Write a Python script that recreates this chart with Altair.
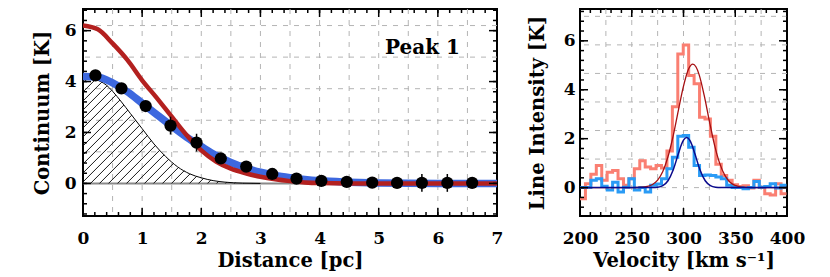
import altair as alt
import pandas as pd
import numpy as np

FONT = "DejaVu Serif"

# ---------------- Left panel data ----------------
dist_curve = [0, 0.25, 0.5, 0.75, 1.0, 1.25, 1.5, 1.75, 2.0, 2.25, 2.5, 2.75, 3.0,
              3.25, 3.5, 3.75, 4.0, 4.5, 5.0, 6.0, 7.0]
red_model = [6.2, 6.05, 5.5, 4.85, 4.05, 3.35, 2.62, 1.9, 1.3, 0.86, 0.58, 0.4, 0.26,
             0.16, 0.09, 0.04, 0.015, 0.0, 0.0, 0.0, 0.0]
blue_model = [4.2, 4.18, 3.95, 3.6, 3.15, 2.7, 2.25, 1.82, 1.45, 1.1, 0.82, 0.6, 0.44,
              0.31, 0.22, 0.15, 0.1, 0.05, 0.02, 0.0, 0.0]

dist_pts = [0.21, 0.65, 1.06, 1.48, 1.92, 2.33, 2.76, 3.20, 3.61, 4.03, 4.46, 4.89,
            5.31, 5.73, 6.16, 6.58]
cont_pts = [4.24, 3.73, 3.04, 2.27, 1.6, 0.98, 0.66, 0.37, 0.19, 0.1, 0.06, 0.03,
            0.02, 0.02, 0.02, 0.02]
cont_err = [0.15, 0.15, 0.15, 0.35, 0.35, 0.15, 0.15, 0.15, 0.15, 0.15, 0.15, 0.15,
            0.15, 0.35, 0.35, 0.15]

hatch_x = [0, 0.1, 0.2, 0.3, 0.4, 0.5, 0.65, 0.8, 1.0, 1.2, 1.4, 1.6, 1.8, 2.0, 2.2,
           2.4, 2.7, 3.0]
hatch_y = [4.08, 4.1, 4.08, 4.0, 3.85, 3.62, 3.2, 2.75, 2.15, 1.55, 1.05, 0.65, 0.38,
           0.22, 0.11, 0.05, 0.01, 0.0]

left_xticks = [0, 1, 2, 3, 4, 5, 6, 7]
left_yticks = [0, 2, 4, 6]
left_xgrid = [0.5, 1.0, 1.5, 2.0, 2.5, 3.0, 3.5, 4.0, 4.5, 5.0, 5.5, 6.0, 6.5]
left_ygrid = [0, 1.24, 2.48, 3.72, 4.96, 6.2]
peak_label = ["Peak 1"]

# ---------------- Right panel data ----------------
chan_start = 200.0
chan_width = 5.25
red_spec = [-0.46, 0.16, 0.55, 0.9, 0.3, 0.63, 0.7, 0.36, 0.1, 0.36, 0.77, 1.1, 0.84,
            0.77, 0.9, 0.8, 1.5, 3.3, 5.46, 5.83, 4.58, 4.24, 2.88, 2.8, 2.1, 0.95,
            0.5, 0.3, 0.12, 0.05, 0.08, -0.02, 0.3, 0.02, -0.25, -0.3, 0.16, -0.25]
blue_spec = [0.0, 0.0, 0.3, 0.36, 0.06, -0.1, 0.22, -0.18, 0.02, 0.36, -0.1, 0.0,
             -0.18, 0.1, 0.15, 0.36, 0.77, 1.24, 2.1, 2.13, 1.65, 0.9, 0.5, 0.52, 0.5,
             0.43, 0.36, 0.1, 0.0, 0.0, -0.05, 0.0, 0.25, 0.02, 0.05, 0.16, -0.02, 0.1]

red_fit_v = [200, 250, 260, 265, 270, 275, 280, 285, 290, 295, 300, 305, 309, 312, 315,
             320, 325, 330, 335, 340, 345, 350, 355, 360, 370, 400]
red_fit = [0, 0, 0.015, 0.05, 0.13, 0.31, 0.66, 1.26, 2.11, 3.15, 4.15, 4.86, 5.05,
           4.94, 4.63, 3.77, 2.72, 1.74, 0.99, 0.50, 0.22, 0.09, 0.03, 0.01, 0, 0]
blue_fit_v = [200, 265, 270, 275, 280, 285, 290, 295, 298, 300, 303, 306, 308, 311,
              316, 321, 326, 331, 336, 400]
blue_fit = [0, 0, 0.003, 0.016, 0.08, 0.28, 0.72, 1.38, 1.76, 1.94, 2.05, 1.94, 1.76,
            1.38, 0.72, 0.28, 0.08, 0.016, 0.003, 0]

right_xticks = [200, 250, 300, 350, 400]
right_yticks = [0, 2, 4, 6]
right_xgrid = [225, 250, 275, 300, 325, 350, 375]
right_ygrid = [0, 7 / 6, 14 / 6, 21 / 6, 28 / 6, 35 / 6, 7.0]

# ---------------- geometry ----------------
W1, H1 = 414, 207
W2, H2 = 207, 207
XD1 = [0, 7]
YD1 = [-1.28, 6.85]
XD2 = [200, 400]
YD2 = [-1.16, 7.3]

GRID = "#b4b4b4"
LFS = 17      # tick label font size
TFS = 19.5    # axis title font size


def ax_common(**kw):
    base = dict(labelFont=FONT, labelFontSize=LFS, labelFontWeight="bold",
                titleFont=FONT, titleFontSize=TFS, titleFontWeight="bold",
                labelColor="black", titleColor="black", tickSize=0, domain=False,
                grid=False, labelFlush=False, labelOverlap=False)
    base.update(kw)
    return alt.Axis(**base)


xs1 = alt.Scale(domain=XD1, nice=False, zero=False)
ys1 = alt.Scale(domain=YD1, nice=False, zero=False)
xs2 = alt.Scale(domain=XD2, nice=False, zero=False)
ys2 = alt.Scale(domain=YD2, nice=False, zero=False)

AX1 = ax_common(values=left_xticks, title="Distance [pc]", labelPadding=14,
                titlePadding=5, format="d")
AY1 = ax_common(values=left_yticks, title="Continuum [K]", labelPadding=7,
                titlePadding=12, format="d")
AX2 = ax_common(values=right_xticks, title="Velocity [km s\u207b\u00b9]",
                labelPadding=14, titlePadding=5, format="d")
AY2 = ax_common(values=right_yticks, title="Line Intensity [K]", labelPadding=5,
                titlePadding=16, format="d")


def X(f, s, a):
    return alt.X(f, scale=s, axis=a)


def Y(f, s, a):
    return alt.Y(f, scale=s, axis=a)


def frame_ticks(xvals_major, xvals_minor, yvals_major, yvals_minor, xs, ys, ax, ay, W, H):
    layers = []
    for vals, L in ((xvals_major, 8), (xvals_minor, 4)):
        df = pd.DataFrame({"v": vals})
        b = alt.Chart(df).mark_rule(color="black", strokeWidth=1.5)
        layers.append(b.encode(x=X("v:Q", xs, ax), y=alt.value(H), y2=alt.value(H - L)))
        layers.append(b.encode(x=X("v:Q", xs, ax), y=alt.value(0), y2=alt.value(L)))
    for vals, L in ((yvals_major, 8), (yvals_minor, 4)):
        df = pd.DataFrame({"v": vals})
        b = alt.Chart(df).mark_rule(color="black", strokeWidth=1.5)
        layers.append(b.encode(y=Y("v:Q", ys, ay), x=alt.value(0), x2=alt.value(L)))
        layers.append(b.encode(y=Y("v:Q", ys, ay), x=alt.value(W), x2=alt.value(W - L)))
    return layers


# ================= LEFT PANEL =================
vgrid1 = alt.Chart(pd.DataFrame({"v": left_xgrid})).mark_rule(
    color=GRID, strokeDash=[5, 6], strokeWidth=1).encode(x=X("v:Q", xs1, AX1))
hgrid1 = alt.Chart(pd.DataFrame({"v": left_ygrid})).mark_rule(
    color=GRID, strokeDash=[5, 6], strokeWidth=1).encode(y=Y("v:Q", ys1, AY1))
zero1 = alt.Chart(pd.DataFrame({"v": [0]})).mark_rule(
    color="#8a8a8a", strokeWidth=2).encode(y=Y("v:Q", ys1, AY1))

# hatch segments derived from the hatched profile
sx = W1 / (XD1[1] - XD1[0])
sy = H1 / (YD1[1] - YD1[0])
slope = sx / sy
spacing = 9.0 / sx
xx = np.linspace(0, 3.0, 3001)
hh = np.interp(xx, hatch_x, hatch_y)
segs = []
for b in np.arange(-4.3 / slope, 3.0, spacing):
    x0 = max(b, 0.0)
    y0 = slope * (x0 - b)
    if y0 >= np.interp(x0, hatch_x, hatch_y):
        continue
    line = slope * (xx - b)
    mask = (xx > x0) & (line >= hh)
    if not mask.any():
        continue
    x1 = xx[mask][0]
    segs.append({"x": x0, "y": y0, "x2": x1, "y2": slope * (x1 - b)})
hatch_df = pd.DataFrame(segs)
hatch = alt.Chart(hatch_df).mark_rule(color="black", strokeWidth=0.9).encode(
    x=X("x:Q", xs1, AX1), y=Y("y:Q", ys1, AY1), x2="x2:Q", y2="y2:Q")
hatch_outline = alt.Chart(pd.DataFrame({"x": hatch_x, "y": hatch_y})).mark_line(
    color="black", strokeWidth=1, interpolate="monotone").encode(
    x=X("x:Q", xs1, AX1), y=Y("y:Q", ys1, AY1))

curves = pd.DataFrame({"x": dist_curve, "red": red_model, "blue": blue_model})
blue_line = alt.Chart(curves).mark_line(
    color="#3d68df", strokeWidth=7.5, interpolate="monotone", clip=True).encode(
    x=X("x:Q", xs1, AX1), y=Y("blue:Q", ys1, AY1))
red_line = alt.Chart(curves).mark_line(
    color="#b3201f", strokeWidth=4.5, interpolate="monotone", clip=True).encode(
    x=X("x:Q", xs1, AX1), y=Y("red:Q", ys1, AY1))

pts = pd.DataFrame({"x": dist_pts, "y": cont_pts, "e": cont_err})
pts["lo"] = pts["y"] - pts["e"]
pts["hi"] = pts["y"] + pts["e"]
errbars = alt.Chart(pts).mark_rule(color="black", strokeWidth=1.5).encode(
    x=X("x:Q", xs1, AX1), y=Y("lo:Q", ys1, AY1), y2="hi:Q")
dots = alt.Chart(pts).mark_circle(color="black", opacity=1, size=150).encode(
    x=X("x:Q", xs1, AX1), y=Y("y:Q", ys1, AY1))

label = alt.Chart(pd.DataFrame({"t": peak_label, "x": [5.74], "y": [5.32]})).mark_text(
    font=FONT, fontSize=20, fontWeight="bold", color="black", align="center",
    baseline="middle").encode(x=X("x:Q", xs1, AX1), y=Y("y:Q", ys1, AY1), text="t:N")

ticks1 = frame_ticks(left_xticks, list(np.round(np.arange(0, 7.01, 0.2), 3)),
                     left_yticks, list(np.round(np.arange(-1.2, 6.81, 0.4), 3)),
                     xs1, ys1, AX1, AY1, W1, H1)

left = alt.layer(vgrid1, hgrid1, zero1, hatch, hatch_outline, blue_line, red_line,
                 errbars, dots, label, *ticks1).properties(width=W1, height=H1)

# ================= RIGHT PANEL =================
vgrid2 = alt.Chart(pd.DataFrame({"v": right_xgrid})).mark_rule(
    color=GRID, strokeDash=[5, 6], strokeWidth=1).encode(x=X("v:Q", xs2, AX2))
hgrid2 = alt.Chart(pd.DataFrame({"v": right_ygrid})).mark_rule(
    color=GRID, strokeDash=[5, 6], strokeWidth=1).encode(y=Y("v:Q", ys2, AY2))

n = len(red_spec)
edges = [chan_start + chan_width * i for i in range(n + 1)]
spec_df = pd.DataFrame({"v": edges, "red": red_spec + [red_spec[-1]],
                        "blue": blue_spec + [blue_spec[-1]]})
red_hist = alt.Chart(spec_df).mark_line(
    color="#fa7f72", strokeWidth=3, interpolate="step-after", clip=True).encode(
    x=X("v:Q", xs2, AX2), y=Y("red:Q", ys2, AY2))
blue_hist = alt.Chart(spec_df).mark_line(
    color="#2a9bf5", strokeWidth=3, interpolate="step-after", clip=True).encode(
    x=X("v:Q", xs2, AX2), y=Y("blue:Q", ys2, AY2))

rfit = alt.Chart(pd.DataFrame({"v": red_fit_v, "y": red_fit})).mark_line(
    color="#a50f12", strokeWidth=1.3, interpolate="monotone", clip=True).encode(
    x=X("v:Q", xs2, AX2), y=Y("y:Q", ys2, AY2))
bfit = alt.Chart(pd.DataFrame({"v": blue_fit_v, "y": blue_fit})).mark_line(
    color="#0a0a8c", strokeWidth=1.5, interpolate="monotone", clip=True).encode(
    x=X("v:Q", xs2, AX2), y=Y("y:Q", ys2, AY2))

ticks2 = frame_ticks(right_xticks, list(range(200, 401, 10)),
                     right_yticks, list(np.round(np.arange(-0.8, 7.21, 0.4), 3)),
                     xs2, ys2, AX2, AY2, W2, H2)

right = alt.layer(vgrid2, hgrid2, red_hist, blue_hist, rfit, bfit, *ticks2).properties(
    width=W2, height=H2)

chart = alt.hconcat(left, right, spacing=22).properties(
    padding={"left": 23, "top": -1, "right": 0, "bottom": 0},
    background="white").configure_view(stroke="black", strokeWidth=2)

chart.save("out.html", embed_options={"renderer": "svg", "actions": False})
